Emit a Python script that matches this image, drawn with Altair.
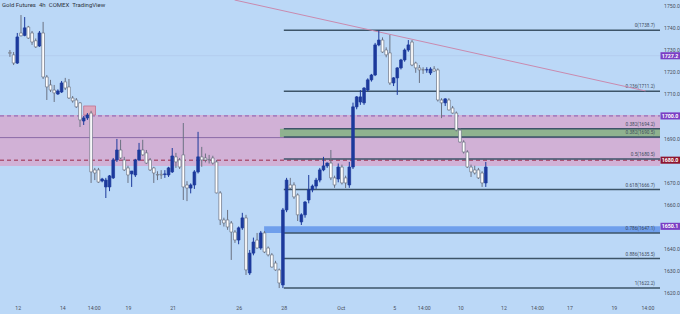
import altair as alt
import pandas as pd

# ---------------- data ----------------
opens = [1728.7, 1727.6, 1723.9, 1737.5, 1736.4, 1740.2, 1737.5, 1734.0, 1731.6, 1737.5,
         1717.6, 1714.0, 1711.7, 1709.9, 1710.8, 1715.4, 1713.1, 1708.1, 1707.2, 1705.9,
         1697.7, 1699.1, 1701.3, 1675.6, 1675.6, 1670.6, 1667.9, 1667.9, 1672.0, 1680.1,
         1684.6, 1680.1, 1676.5, 1673.8, 1673.3, 1680.1, 1684.6, 1683.3, 1680.1, 1676.5,
         1673.5, 1673.6, 1673.5, 1673.3, 1674.7, 1681.5, 1680.1, 1682.4, 1668.8, 1667.4,
         1668.8, 1674.7, 1681.5, 1681.0, 1680.3, 1681.0, 1679.2, 1665.2, 1653.0, 1653.0,
         1651.6, 1647.5, 1643.9, 1649.4, 1653.9, 1629.0, 1638.0, 1643.9, 1640.3, 1647.1,
         1640.3, 1637.2, 1633.5, 1630.4, 1623.6, 1657.5, 1668.8, 1668.8, 1664.3, 1652.1,
         1655.3, 1662.0, 1666.6, 1668.3, 1671.0, 1675.6, 1677.4, 1678.7, 1672.0, 1671.5,
         1676.9, 1672.0, 1668.8, 1676.9, 1704.1, 1706.3, 1705.9, 1711.7, 1716.3, 1718.5,
         1732.1, 1734.3, 1729.8, 1728.5, 1714.9, 1717.2, 1721.7, 1725.3, 1729.8, 1733.4,
         1723.9, 1721.7, 1720.9, 1720.8, 1719.4, 1721.2, 1720.8, 1707.2, 1705.9, 1707.2,
         1703.6, 1701.3, 1693.6, 1688.2, 1683.7, 1676.9, 1675.6, 1675.6, 1674.2, 1669.7]
highs = [1729.8, 1728.9, 1737.5, 1745.6, 1744.7, 1740.7, 1738.4, 1735.0, 1738.4, 1742.5,
         1718.5, 1716.3, 1714.0, 1712.0, 1715.8, 1717.2, 1716.7, 1709.0, 1708.1, 1706.3,
         1700.0, 1701.3, 1702.3, 1676.5, 1676.5, 1672.0, 1672.0, 1673.3, 1681.0, 1689.6,
         1689.2, 1681.5, 1677.5, 1675.1, 1680.6, 1687.8, 1689.2, 1684.6, 1681.0, 1677.0,
         1675.0, 1675.5, 1675.5, 1677.0, 1685.5, 1683.3, 1681.0, 1696.8, 1670.5, 1669.5,
         1675.5, 1692.8, 1686.0, 1683.0, 1682.4, 1682.0, 1680.1, 1666.0, 1654.0, 1657.5,
         1652.5, 1648.4, 1650.0, 1656.2, 1655.3, 1639.4, 1645.0, 1647.1, 1648.0, 1648.0,
         1641.0, 1638.0, 1634.5, 1631.0, 1658.4, 1672.0, 1672.0, 1670.0, 1665.0, 1656.0,
         1661.5, 1673.3, 1669.0, 1672.0, 1676.5, 1681.5, 1679.0, 1684.6, 1673.0, 1678.5,
         1678.0, 1673.0, 1679.2, 1706.0, 1709.0, 1711.7, 1713.0, 1717.0, 1719.0, 1733.0,
         1738.7, 1735.5, 1731.0, 1736.6, 1717.5, 1722.0, 1725.8, 1730.5, 1734.3, 1734.3,
         1724.5, 1723.0, 1722.0, 1722.0, 1722.0, 1722.5, 1721.5, 1708.0, 1708.0, 1708.0,
         1704.5, 1702.0, 1694.5, 1689.0, 1684.5, 1678.0, 1677.5, 1676.5, 1675.0, 1679.2]
lows = [1726.7, 1723.0, 1723.5, 1736.0, 1736.0, 1734.8, 1732.1, 1730.7, 1731.2, 1716.7,
        1707.2, 1710.8, 1706.3, 1709.5, 1710.4, 1711.7, 1707.7, 1706.0, 1703.6, 1695.0,
        1695.9, 1698.2, 1669.7, 1671.0, 1669.7, 1670.0, 1662.9, 1666.0, 1671.5, 1679.2,
        1680.5, 1675.1, 1669.7, 1667.9, 1672.4, 1679.6, 1682.0, 1678.3, 1675.1, 1669.7,
        1671.0, 1671.5, 1672.0, 1672.4, 1674.2, 1676.5, 1676.0, 1662.0, 1661.5, 1665.0,
        1667.0, 1674.0, 1677.0, 1679.0, 1678.5, 1678.0, 1665.0, 1650.7, 1650.0, 1648.5,
        1634.9, 1642.6, 1642.0, 1648.5, 1628.1, 1628.1, 1637.0, 1640.0, 1639.5, 1638.0,
        1636.5, 1631.5, 1630.0, 1622.2, 1622.2, 1656.5, 1667.0, 1662.5, 1652.5, 1650.7,
        1654.0, 1660.5, 1665.5, 1667.0, 1670.0, 1675.0, 1676.5, 1671.0, 1667.5, 1670.0,
        1669.0, 1667.4, 1667.5, 1676.0, 1703.0, 1705.0, 1705.0, 1711.0, 1715.5, 1718.0,
        1731.5, 1728.5, 1726.5, 1714.0, 1713.5, 1709.5, 1721.0, 1724.5, 1729.0, 1722.5,
        1719.5, 1714.9, 1719.0, 1719.5, 1718.5, 1720.0, 1706.5, 1699.0, 1704.5, 1702.5,
        1701.0, 1693.0, 1688.0, 1683.0, 1676.5, 1672.4, 1673.5, 1671.5, 1667.9, 1667.9]
closes = [1728.3, 1723.9, 1735.7, 1736.2, 1739.8, 1735.2, 1733.4, 1731.2, 1737.5, 1717.6,
          1713.1, 1711.7, 1710.4, 1711.3, 1714.9, 1712.6, 1708.1, 1706.8, 1704.1, 1698.2,
          1699.1, 1700.4, 1674.7, 1674.2, 1670.1, 1671.5, 1671.0, 1672.9, 1680.1, 1684.6,
          1681.0, 1675.6, 1673.3, 1675.1, 1680.1, 1684.6, 1682.4, 1678.7, 1675.6, 1674.2,
          1673.3, 1673.3, 1673.8, 1676.5, 1681.9, 1679.2, 1676.9, 1667.9, 1667.4, 1668.8,
          1674.7, 1681.5, 1680.1, 1680.1, 1680.1, 1678.7, 1665.2, 1653.0, 1651.6, 1649.8,
          1647.5, 1643.9, 1649.4, 1653.9, 1630.4, 1638.0, 1643.0, 1640.3, 1647.1, 1638.5,
          1637.2, 1631.7, 1630.4, 1624.5, 1657.5, 1671.0, 1667.4, 1663.4, 1655.3, 1655.3,
          1661.1, 1666.6, 1668.3, 1671.0, 1675.6, 1677.4, 1678.7, 1672.0, 1668.8, 1676.9,
          1669.7, 1669.7, 1676.9, 1704.1, 1708.6, 1708.6, 1712.6, 1716.3, 1718.5, 1732.1,
          1734.3, 1728.9, 1727.6, 1714.9, 1717.2, 1721.7, 1725.3, 1729.8, 1732.1, 1723.0,
          1721.7, 1720.8, 1720.8, 1720.9, 1721.2, 1720.3, 1707.2, 1705.9, 1707.7, 1702.7,
          1701.3, 1693.6, 1688.2, 1683.7, 1676.9, 1674.7, 1674.2, 1672.0, 1669.7, 1676.9]

tick_pos = [2.1, 14.2, 22.7, 32.0, 44.1, 62.0, 74.2, 89.7, 104.2, 112.2,
            122.1, 133.8, 142.9, 151.7, 163.7, 172.8]
tick_lab = ["12", "14", "14:00", "19", "21", "26", "28", "Oct", "5", "14:00",
            "10", "12", "14:00", "17", "19", "14:00"]

# price labels that are not covered by a coloured price tag
price_ticks = [1620, 1630, 1640, 1660, 1670, 1690, 1710, 1720, 1730, 1740, 1750]

fib_levels = [1738.7, 1711.2, 1694.2, 1690.5, 1680.5, 1666.7, 1647.1, 1635.5, 1622.2]
fib_names = ["0(1738.7)", "0.236(1711.2)", "0.382(1694.2)", "0.382(1690.5)", "0.5(1680.5)",
             "0.618(1666.7)", "0.786(1647.1)", "0.886(1635.5)", "1(1622.2)"]
fib_start = 74.25

zone_top, zone_bottom = 1700.4, 1677.4
zone_mid = 1690.2
level_1700, level_1680, level_1727 = 1700.0, 1680.0, 1727.2
green_band = [1694.2, 1690.5]
green_start = 73.2
blue_band = [1650.1, 1647.1]
blue_start = 68.9
small_box = [20.0, 23.2, 1704.5, 1700.4]   # x from, x to, price top, price bottom

trend_x = [60.9, 172.3]
trend_y = [1752.4, 1711.3]

tag_prices = [1727.2, 1700.0, 1680.0, 1650.1]
tag_texts = ["1727.2", "1700.0", "1680.0", "1650.1"]
tag_colors = ["#7B3FC4", "#7B3FC4", "#8E1630", "#7B3FC4"]

title_parts = ["Gold Futures", "4h", "COMEX", "TradingView"]

# ---------------- chart ----------------
BG = "#BBD8F7"
UP = "#1C3A9C"
DOWN_EDGE = "#6B7282"

xs = alt.Scale(domain=[-1.335, 180.29], nice=False, zero=False)
ys = alt.Scale(domain=[1610.47, 1752.4], nice=False, zero=False)

candles = pd.DataFrame({"i": list(range(len(opens))), "o": opens, "h": highs, "l": lows, "c": closes})
candles["dir"] = ["up" if c >= o else "down" for o, c in zip(opens, closes)]

labels_js = "[" + ",".join("'%s'" % t for t in tick_lab) + "]"
pos_js = "[" + ",".join(str(p) for p in tick_pos) + "]"

x_axis = alt.Axis(values=tick_pos, labelExpr=labels_js + "[indexof(" + pos_js + ", datum.value)]",
                  orient="bottom", offset=-12, ticks=False, domain=False, grid=False,
                  labelFontSize=5.2, labelColor="#4A4F5A", labelPadding=3.5, labelFlush=False,
                  labelOverlap=False, labelFont="Roboto", title=None)
y_axis = alt.Axis(values=price_ticks, format=".1f", orient="right", offset=-19, ticks=False,
                  domain=False, grid=False, labelFontSize=5.2, labelColor="#4A4F5A",
                  labelPadding=2.5, labelAlign="left", labelOverlap=False, labelFlush=False,
                  labelFont="Roboto", title=None)


def X(field):
    return alt.X(field, type="quantitative", scale=xs, axis=x_axis)


def Y(field):
    return alt.Y(field, type="quantitative", scale=ys, axis=y_axis)


base = alt.Chart(candles)

wicks = base.mark_rule(strokeWidth=1).encode(
    x=X("i"), y=Y("l"), y2="h:Q",
    color=alt.Color("dir:N", scale=alt.Scale(domain=["up", "down"], range=[UP, DOWN_EDGE]), legend=None),
)
bodies = base.mark_bar(size=2.7, strokeWidth=0.7).encode(
    x=X("i"), y=Y("o"), y2="c:Q",
    fill=alt.Fill("dir:N", scale=alt.Scale(domain=["up", "down"], range=[UP, "#FFFFFF"]), legend=None),
    stroke=alt.Stroke("dir:N", scale=alt.Scale(domain=["up", "down"], range=[UP, DOWN_EDGE]), legend=None),
)

zone = alt.Chart(pd.DataFrame({"t": [zone_top], "b": [zone_bottom]})).mark_rect(color="#D1B1D6").encode(
    x=alt.value(0), x2=alt.value(660), y=Y("t"), y2="b:Q")
mid_line = alt.Chart(pd.DataFrame({"p": [zone_mid]})).mark_rule(color="#8C6BA8", strokeWidth=1).encode(
    x=alt.value(0), x2=alt.value(660), y=Y("p"))
dash_1700 = alt.Chart(pd.DataFrame({"p": [level_1700]})).mark_rule(color="#8A5AAE", strokeWidth=1, strokeDash=[4, 3]).encode(
    x=alt.value(0), x2=alt.value(660), y=Y("p"))
dash_1680 = alt.Chart(pd.DataFrame({"p": [level_1680]})).mark_rule(color="#9A2A48", strokeWidth=1, strokeDash=[4, 3]).encode(
    x=alt.value(0), x2=alt.value(660), y=Y("p"))
line_1727 = alt.Chart(pd.DataFrame({"p": [level_1727]})).mark_rule(color="#B3CDEE", strokeWidth=1).encode(
    x=alt.value(0), x2=alt.value(660), y=Y("p"))

green = alt.Chart(pd.DataFrame({"x": [green_start], "t": [green_band[0]], "b": [green_band[1]]})).mark_rect(color="#8FB28F").encode(
    x=X("x"), x2=alt.value(660), y=Y("t"), y2="b:Q")
blue = alt.Chart(pd.DataFrame({"x": [blue_start], "t": [blue_band[0]], "b": [blue_band[1]]})).mark_rect(color="#6F9FEC").encode(
    x=X("x"), x2=alt.value(660), y=Y("t"), y2="b:Q")

fib_df = pd.DataFrame({"p": fib_levels, "name": fib_names, "x": [fib_start] * len(fib_levels)})
fib_lines = alt.Chart(fib_df).mark_rule(color="#3D5468", strokeWidth=1.5).encode(
    x=X("x"), x2=alt.value(660), y=Y("p"))
fib_text = alt.Chart(fib_df).mark_text(align="right", baseline="bottom", dy=-2, fontSize=4.7,
                                       color="#3E4C5C", font="Roboto").encode(
    x=alt.value(655), y=Y("p"), text="name:N")

box = alt.Chart(pd.DataFrame({"x1": [small_box[0]], "x2": [small_box[1]], "t": [small_box[2]], "b": [small_box[3]]})).mark_rect(
    color="#DCA6BE", stroke="#C0708F", strokeWidth=0.8).encode(
    x=X("x1"), x2="x2:Q", y=Y("t"), y2="b:Q")

trend = alt.Chart(pd.DataFrame({"x": trend_x, "p": trend_y})).mark_line(color="#C98AAE", strokeWidth=1, clip=True).encode(
    x=X("x"), y=Y("p"))

tags_df = pd.DataFrame({"p": tag_prices, "t": tag_texts, "col": tag_colors})
tags_df["top"] = tags_df["p"] + 1.6
tags_df["bot"] = tags_df["p"] - 1.6
tag_boxes = alt.Chart(tags_df).mark_rect().encode(
    x=alt.value(660.5), x2=alt.value(680), y=Y("top"), y2="bot:Q",
    color=alt.Color("col:N", scale=None, legend=None))
tag_text = alt.Chart(tags_df).mark_text(fontSize=5.3, fontWeight="bold", color="white", font="Roboto").encode(
    x=alt.value(670), y=Y("p"), text="t:N")

title_df = pd.DataFrame({"t": ["\u2002".join(title_parts)]})
title = alt.Chart(title_df).mark_text(
    align="left", baseline="middle", fontSize=6, color="#2E3440", font="Roboto").encode(
    x=alt.value(2), y=alt.value(5), text="t:N")

chart = alt.layer(
    zone, mid_line, line_1727, green, blue, dash_1700, dash_1680, fib_lines, fib_text,
    trend, box, wicks, bodies, tag_boxes, tag_text, title
).properties(
    width=680, height=314, background=BG, padding=0,
    autosize=alt.AutoSizeParams(type="none")
).configure_view(stroke=None)

chart.save("out.html", embed_options={"renderer": "svg", "actions": False})
